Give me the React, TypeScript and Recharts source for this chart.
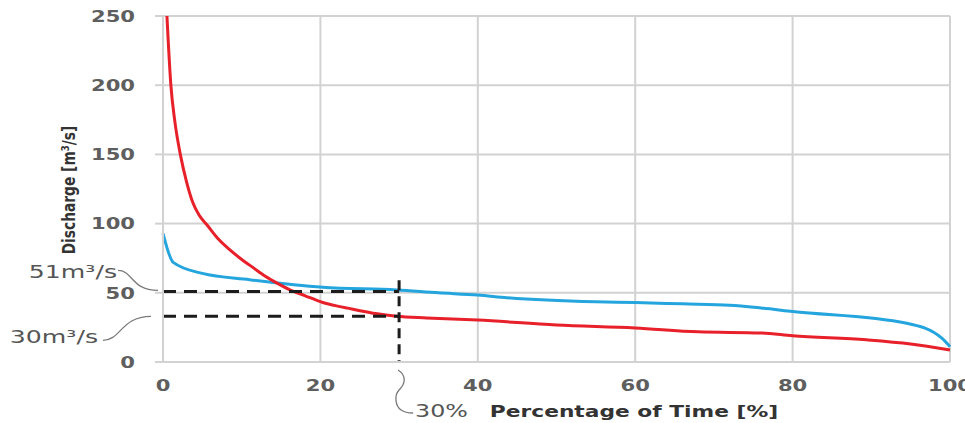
import React from 'react';
import { LineChart, Line, XAxis, YAxis, CartesianGrid, ReferenceLine } from 'recharts';

// Flow duration curves: percentage of time vs discharge
const redPct = [0.5, 1, 1.5, 2.2, 3, 3.8, 4.6, 5.6, 7, 8.5, 9.8, 11.5, 13, 14.5, 16, 18, 20.3, 22.5, 24.6, 27, 29.7, 33.5, 40, 50, 60, 68, 76, 80, 89.4, 95, 100];
const redQ = [250, 200, 174, 150, 130, 115, 106, 99, 89, 81, 75, 68, 62, 57, 52.5, 48, 43, 40, 37.6, 35, 33, 31.8, 30.3, 26.7, 24.6, 21.8, 21, 19, 16, 13, 8.7];

const bluePct = [0, 1.3, 5, 11, 20.3, 29.7, 35, 40, 43.7, 55, 60, 66, 72, 76, 80, 94.5, 99, 100];
const blueQ = [93, 72, 64, 59.5, 54, 52, 50, 48.4, 46.5, 43.5, 43, 42, 41, 39, 36.5, 28, 17, 11];

const xTicks = [0, 20, 40, 60, 80, 100];
const yTicks = [0, 50, 100, 150, 200, 250];

const markTime = 30;
const markHigh = 51;
const markLow = 33;
const markTop = 59;

const highLabel = '51m³/s';
const lowLabel = '30m³/s';
const timeLabel = '30%';
const xTitle = 'Percentage of Time [%]';
const yTitle = 'Discharge [m³/s]';

const redData = redPct.map((x, i) => ({ x, q: redQ[i] }));
const blueData = bluePct.map((x, i) => ({ x, q: blueQ[i] }));

const FONT = 'DejaVu Sans';
const SX = 1.32;

const YTick = (props: any) => {
  const { x, y, payload } = props;
  return (
    <g transform={`translate(${x},${y})`}>
      <text transform={`scale(${SX},1)`} textAnchor="end" dy="0.36em" fontFamily={FONT} fontWeight="bold" fontSize={16} fill="#5e5e5e">
        {payload.value}
      </text>
    </g>
  );
};

const XTick = (props: any) => {
  const { x, y, payload } = props;
  return (
    <g transform={`translate(${x},${y})`}>
      <text transform={`scale(${SX},1)`} textAnchor="middle" dy="0.71em" fontFamily={FONT} fontWeight="bold" fontSize={16} fill="#5e5e5e">
        {payload.value}
      </text>
    </g>
  );
};

const noteStyle = { fontFamily: FONT, fontSize: 17, fill: '#555' } as const;
const NSX = 1.48;

const HighNote = (props: any) => {
  const vb = props.viewBox || {};
  const x = vb.x, y = vb.y;
  return (
    <g>
      <path d={`M ${x - 45} ${y - 21} C ${x - 30} ${y - 21}, ${x - 32} ${y - 1}, ${x - 5} ${y - 1}`} fill="none" stroke="#7a7a7a" strokeWidth={1.3} />
      <g transform={`translate(${x - 46},${y - 20})`}>
        <text transform={`scale(${NSX},1)`} textAnchor="end" dy="0.36em" {...noteStyle}>{highLabel}</text>
      </g>
    </g>
  );
};

const LowNote = (props: any) => {
  const vb = props.viewBox || {};
  const x = vb.x, y = vb.y;
  return (
    <g>
      <path d={`M ${x - 60} ${y + 24} C ${x - 42} ${y + 24}, ${x - 42} ${y}, ${x - 12} ${y}`} fill="none" stroke="#7a7a7a" strokeWidth={1.3} />
      <g transform={`translate(${x - 65},${y + 21})`}>
        <text transform={`scale(${NSX},1)`} textAnchor="end" dy="0.36em" {...noteStyle}>{lowLabel}</text>
      </g>
    </g>
  );
};

const TimeNote = (props: any) => {
  const vb = props.viewBox || {};
  const x = vb.x;
  const b = vb.y + vb.height;
  return (
    <g>
      <path
        d={`M ${x - 1} ${b + 8} C ${x + 8} ${b + 14}, ${x + 6} ${b + 22}, ${x} ${b + 28} C ${x - 5} ${b + 33}, ${x - 4} ${b + 44}, ${x + 2} ${b + 48} C ${x + 6} ${b + 51}, ${x + 10} ${b + 51}, ${x + 14} ${b + 51}`}
        fill="none" stroke="#7a7a7a" strokeWidth={1.3}
      />
      <g transform={`translate(${x + 16},${b + 49})`}>
        <text transform="scale(1.4,1)" textAnchor="start" dy="0.36em" {...noteStyle}>{timeLabel}</text>
      </g>
    </g>
  );
};

const grid = '#d2d2d2';
const dash = '#1c1c1c';

export default function App() {
  return (
    <div style={{ position: 'absolute', left: 0, top: 0, width: 965, height: 423, background: '#fff' }}>
      <LineChart width={965} height={423} margin={{ top: 16, right: 15, bottom: 31, left: 103 }}>
        <CartesianGrid stroke={grid} strokeWidth={2} />
        <XAxis
          dataKey="x"
          type="number"
          domain={[0, 100]}
          ticks={xTicks}
          tick={<XTick />}
          tickLine={false}
          tickSize={0}
          tickMargin={18}
          height={30}
          axisLine={{ stroke: grid, strokeWidth: 2 }}
          allowDuplicatedCategory={false}
        />
        <YAxis
          type="number"
          domain={[0, 250]}
          ticks={yTicks}
          tick={<YTick />}
          tickSize={8}
          tickMargin={20}
          width={60}
          tickLine={{ stroke: grid, strokeWidth: 2 }}
          axisLine={{ stroke: grid, strokeWidth: 2 }}
        />
        <Line data={blueData} dataKey="q" type="monotone" stroke="#25a5de" strokeWidth={3} dot={false} isAnimationActive={false} />
        <Line data={redData} dataKey="q" type="monotone" stroke="#e8202a" strokeWidth={3} dot={false} isAnimationActive={false} />
        <ReferenceLine
          segment={[{ x: 0, y: markHigh }, { x: markTime, y: markHigh }]}
          stroke={dash}
          strokeWidth={3}
          strokeDasharray="13 8"
          ifOverflow="visible"
          label={<HighNote />}
        />
        <ReferenceLine
          segment={[{ x: 0, y: markLow }, { x: markTime, y: markLow }]}
          stroke={dash}
          strokeWidth={3}
          strokeDasharray="13 8"
          ifOverflow="visible"
          label={<LowNote />}
        />
        <ReferenceLine
          segment={[{ x: markTime, y: markTop }, { x: markTime, y: 0 }]}
          stroke={dash}
          strokeWidth={3}
          strokeDasharray="10 6"
          ifOverflow="visible"
          label={<TimeNote />}
        />
      </LineChart>
      <svg width={965} height={423} style={{ position: 'absolute', left: 0, top: 0, pointerEvents: 'none' }}>
        <g transform="translate(634,411)">
          <text transform="scale(1.36,1)" textAnchor="middle" dy="0.36em" fontFamily={FONT} fontWeight="bold" fontSize={16} fill="#333">
            {xTitle}
          </text>
        </g>
        <g transform="translate(68,190)">
          <g transform={`scale(${SX},1)`}>
            <text transform="rotate(-90)" textAnchor="middle" dy="0.36em" fontFamily={FONT} fontWeight="bold" fontSize={13.8} fill="#333">
              {yTitle}
            </text>
          </g>
        </g>
      </svg>
    </div>
  );
}
